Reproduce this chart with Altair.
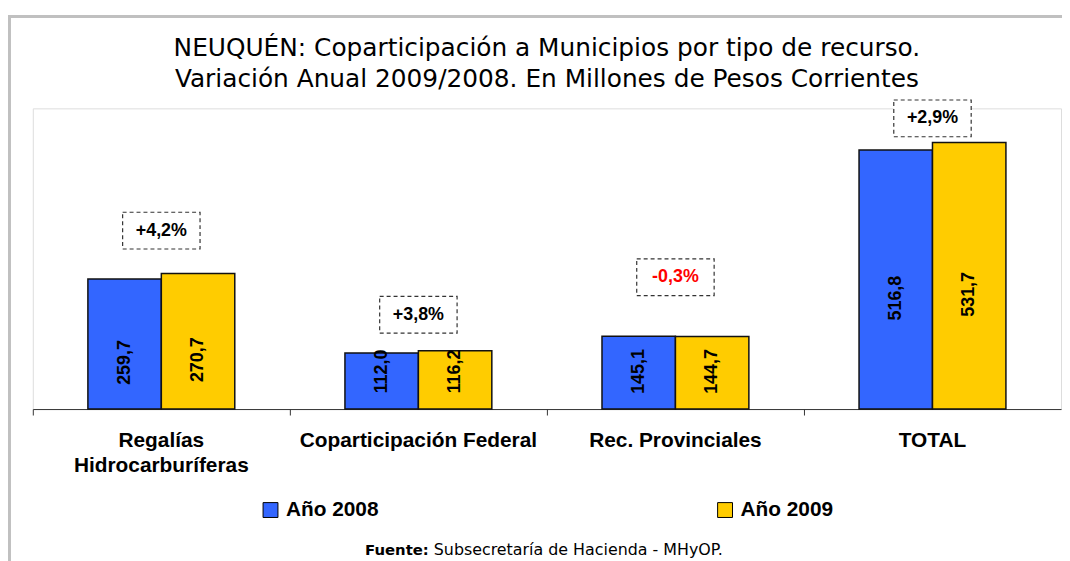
import altair as alt
import pandas as pd

# ---- data ----
categories = ["Regalías\nHidrocarburíferas", "Coparticipación Federal", "Rec. Provinciales", "TOTAL"]
years = ["Año 2008", "Año 2009"]
values_2008 = [259.7, 112.0, 145.1, 516.8]
values_2009 = [270.7, 116.2, 144.7, 531.7]
variation_pct = [4.2, 3.8, -0.3, 2.9]
variation_box_y = [356, 188, 263, 580]  # vertical anchor of the boxed % labels (data units)
colors = ["#3366FF", "#FFCC00"]

title_lines = [
    "NEUQUÉN: Coparticipación a Municipios por tipo de recurso.",
    "Variación Anual 2009/2008. En Millones de Pesos Corrientes",
]
source_bold = "Fuente:"
source_rest = "Subsecretaría de Hacienda - MHyOP."


def fmt(v):
    return f"{v:.1f}".replace(".", ",")


rows = []
for cat, a, b in zip(categories, values_2008, values_2009):
    rows.append({"cat": cat, "year": years[0], "value": a, "txt": fmt(a)})
    rows.append({"cat": cat, "year": years[1], "value": b, "txt": fmt(b)})
bars_df = pd.DataFrame(rows)

var_df = pd.DataFrame({
    "cat": categories,
    "pct": variation_pct,
    "ypos": variation_box_y,
    "txt": [("+" if p > 0 else "") + fmt(p) + "%" for p in variation_pct],
})
one = pd.DataFrame({"a": [0]})

BOLD = "Liberation Sans"
W, H = 1036, 303

x_enc = alt.X(
    "cat:N", sort=categories,
    scale=alt.Scale(paddingInner=0, paddingOuter=0),
    axis=alt.Axis(
        title=None, bandPosition=0, tickSize=6, tickColor="#333333", domainColor="#333333",
        tickWidth=1, domainWidth=1,
        labelFont=BOLD, labelFontSize=21, labelFontWeight="bold", labelColor="black",
        labelLineHeight=25, labelPadding=15, labelAngle=0, labelLimit=400,
        labelExpr="split(datum.label, '\\n')",
    ),
)
xoff = alt.XOffset("year:N", sort=years, scale=alt.Scale(paddingInner=0, paddingOuter=0.75))
y_scale = alt.Scale(domain=[0, 600])

frame = alt.Chart(one).mark_rect(fillOpacity=0, stroke="#c0c0c0", strokeWidth=3).encode(
    x=alt.value(-23.5), x2=alt.value(1100), y=alt.value(-92.5), y2=alt.value(600)
)

title = alt.Chart(one).mark_text(
    text=title_lines, font="DejaVu Sans", fontSize=25, fontWeight="normal",
    align="center", baseline="alphabetic", lineHeight=31, color="black",
).encode(x=alt.value(W / 2), y=alt.value(-53))

bars = alt.Chart(bars_df).mark_bar(stroke="#111111", strokeWidth=1.5).encode(
    x=x_enc,
    xOffset=xoff,
    y=alt.Y("value:Q", scale=y_scale, axis=None),
    color=alt.Color(
        "year:N",
        scale=alt.Scale(domain=years, range=colors),
        legend=alt.Legend(
            title=None, orient="none", legendX=229, legendY=394, direction="horizontal",
            symbolType="square", symbolSize=225, symbolStrokeColor="black", symbolStrokeWidth=1,
            symbolOpacity=1, labelFont=BOLD, labelFontSize=21, labelFontWeight="bold",
            labelColor="black", labelOffset=5, columnPadding=338, padding=0, labelLimit=300,
        ),
    ),
)

value_labels = alt.Chart(bars_df).transform_calculate(
    ly="max(datum.value / 2 - 37, 75)"
).mark_text(
    angle=270, font=BOLD, fontSize=18, fontWeight="bold", color="black",
    align="center", baseline="middle",
).encode(
    x=x_enc, xOffset=xoff,
    y=alt.Y("ly:Q", scale=y_scale, axis=None),
    text="txt:N",
)

box = alt.Chart(var_df).mark_point(
    shape="M-1,-0.475L1,-0.475L1,0.475L-1,0.475Z", size=6084, filled=True,
    fill="white", stroke="#333333", strokeWidth=1.2, strokeDash=[4, 3], opacity=1,
).encode(
    x=x_enc,
    y=alt.Y("ypos:Q", scale=y_scale, axis=None),
)

pct_text = alt.Chart(var_df).mark_text(
    font=BOLD, fontSize=18, fontWeight="bold", align="center", baseline="middle",
).encode(
    x=x_enc,
    y=alt.Y("ypos:Q", scale=y_scale, axis=None),
    text="txt:N",
    color=alt.condition("datum.pct < 0", alt.value("#FF0000"), alt.value("black")),
)

src1 = alt.Chart(one).mark_text(
    text=source_bold, font="DejaVu Sans", fontSize=15, fontWeight="bold",
    align="right", baseline="alphabetic", color="black",
).encode(x=alt.value(399), y=alt.value(450))

src2 = alt.Chart(one).mark_text(
    text=source_rest, font="DejaVu Sans", fontSize=16, fontWeight="normal",
    align="left", baseline="alphabetic", color="black",
).encode(x=alt.value(404), y=alt.value(450))

chart = alt.layer(frame, title, bars, value_labels, box, pct_text, src1, src2).properties(
    width=W, height=H,
    autosize=alt.AutoSizeParams(type="none"),
    padding={"left": 25, "top": 99, "right": 1, "bottom": 151},
).configure_view(stroke="transparent").configure(background="white")

chart.save("out.html", embed_options={"renderer": "svg", "actions": False})
